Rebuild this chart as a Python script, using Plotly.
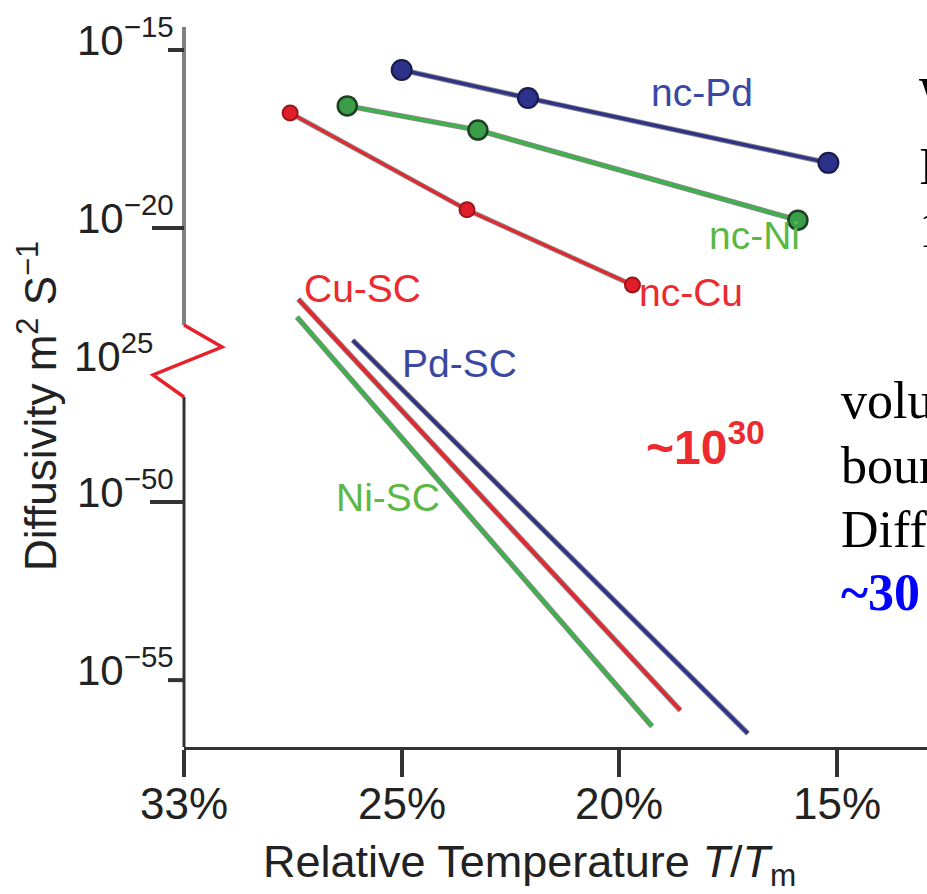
import numpy as np
import plotly.graph_objects as go

# ---------------- data (x: relative temperature T/Tm in %, y: log10 of diffusivity in m^2/s)
nc_pd_T = [25.0, 22.1, 15.2]
nc_pd_logD = [-15.56, -16.35, -18.17]
nc_ni_T = [27.0, 23.25, 15.9]
nc_ni_logD = [-16.57, -17.25, -19.78]
nc_cu_T = [29.1, 23.5, 19.7]
nc_cu_logD = [-16.77, -19.49, -21.60]

sc_cu_T = [28.8, 18.6]
sc_cu_logD = [-22.0, -55.85]
sc_ni_T = [28.85, 19.25]
sc_ni_logD = [-22.5, -56.3]
sc_pd_T = [26.8, 17.05]
sc_pd_logD = [-23.15, -56.5]

x_tick_pct = [33, 25, 20, 15]
x_tick_text = ["33%", "25%", "20%", "15%"]
y_tick_exp = [-15, -20, -50, -55]
y_tick_text = ["10<sup>\u221215</sup>", "10<sup>\u221220</sup>", "10<sup>\u221250</sup>", "10<sup>\u221255</sup>"]

# ---------------- axis scales (broken log axis, tick-spaced temperature axis)
GAP = 22.3          # decades removed by the axis break
GAP_LIMIT = -35.0   # values below this are in the lower segment


def y_axis(logd):
    a = np.asarray(logd, dtype=float)
    return np.where(a > GAP_LIMIT, a, a + GAP)


def x_axis(pct):
    return np.interp(np.asarray(pct, dtype=float), [15, 20, 25, 33], [3, 2, 1, 0])


# ---------------- layout geometry (pixels)
W, H = 927, 894
L, R, T, B = 184, 927, 27, 747
PW, PH = R - L, B - T
X_UNIT = 217.7


def pxx(px):
    return (px - L) / PW


def pxy(py):
    return (B - py) / PH


FONT = "Liberation Sans, Arial, Helvetica, sans-serif"
SERIF = "Liberation Serif, Times New Roman, serif"

BLUE = "#2f3388"
GREEN = "#3db24b"
RED = "#e5262e"
BLUE_T = "#3a48a2"
GREEN_T = "#5bb847"
RED_T = "#ec2a30"

fig = go.Figure()


def add_line(xp, yl, color, width=3.5, marker=None):
    x = x_axis(xp)
    y = y_axis(yl)
    fig.add_trace(go.Scatter(x=x, y=y, mode="lines",
                             line=dict(color="rgba(40,40,40,0.55)", width=width + 2),
                             hoverinfo="skip", showlegend=False))
    fig.add_trace(go.Scatter(x=x, y=y, mode="lines+markers" if marker else "lines",
                             line=dict(color=color, width=width),
                             marker=marker, showlegend=False))


add_line(sc_ni_T, sc_ni_logD, GREEN, 3.5)
add_line(sc_cu_T, sc_cu_logD, RED, 3.5)
add_line(sc_pd_T, sc_pd_logD, BLUE, 3.5)

add_line(nc_cu_T, nc_cu_logD, RED, 3,
         dict(size=15, color="#e01e2a", line=dict(color="#9a1418", width=2)))
add_line(nc_ni_T, nc_ni_logD, GREEN, 3.5,
         dict(size=19, color="#3a9e48", line=dict(color="#1e3f25", width=2.5)))
add_line(nc_pd_T, nc_pd_logD, BLUE, 3.5,
         dict(size=20, color="#2c318a", line=dict(color="#181a4a", width=2)))

shapes = []
# y-axis line (broken)
shapes.append(dict(type="line", xref="paper", yref="paper", x0=0, x1=0,
                   y0=pxy(325), y1=pxy(T), line=dict(color="#808080", width=4)))
shapes.append(dict(type="line", xref="paper", yref="paper", x0=0, x1=0,
                   y0=pxy(397), y1=0, line=dict(color="#333333", width=3)))
# zig-zag break mark
zz = [(184, 325), (222, 347), (153, 375), (184, 397)]
path = "M " + " L ".join(f"{pxx(a):.5f},{pxy(b):.5f}" for a, b in zz)
shapes.append(dict(type="path", xref="paper", yref="paper", path=path,
                   line=dict(color="#e8202a", width=3.5)))
# y ticks
y_tick_len = [16, 32, 34, 16]
for e, ln in zip(y_tick_exp, y_tick_len):
    yv = float(y_axis(e))
    shapes.append(dict(type="line", xref="paper", yref="y", x0=pxx(L - ln), x1=0,
                       y0=yv, y1=yv, line=dict(color="#333333", width=4)))

ann = []
for e, t in zip(y_tick_exp, y_tick_text):
    ann.append(dict(text=t, xref="paper", yref="y", x=pxx(176), y=float(y_axis(e)),
                    xanchor="right", yanchor="middle", yshift=13, showarrow=False,
                    font=dict(family=FONT, size=42, color="#222222")))
ann.append(dict(text="10<sup>25</sup>", xref="paper", yref="paper", x=pxx(155), y=pxy(353),
                xanchor="right", yanchor="middle", showarrow=False,
                font=dict(family=FONT, size=42, color="#222222")))
# x tick labels
for p, t in zip(x_tick_pct, x_tick_text):
    ann.append(dict(text=t, xref="x", yref="paper", x=float(x_axis(p)), y=pxy(803),
                    xanchor="center", yanchor="middle", showarrow=False,
                    font=dict(family=FONT, size=44, color="#222222")))

ann.append(dict(text="Relative Temperature <i>T</i>/<i>T</i><sub>m</sub>", xref="paper", yref="paper",
                x=pxx(529), y=pxy(864), xanchor="center", yanchor="middle", showarrow=False,
                font=dict(family=FONT, size=45, color="#222222")))
ann.append(dict(text="Diffusivity m<sup>2</sup> S<sup>\u22121</sup>", xref="paper", yref="paper",
                x=pxx(37), y=pxy(406), xanchor="center", yanchor="middle", textangle=-90,
                showarrow=False, font=dict(family=FONT, size=44, color="#222222")))


def lab(text, cx, cy, color, size=39, bold=False, anchor="center"):
    ann.append(dict(text=f"<b>{text}</b>" if bold else text, xref="paper", yref="paper",
                    x=pxx(cx), y=pxy(cy), xanchor=anchor, yanchor="middle", showarrow=False,
                    font=dict(family=FONT, size=size, color=color)))


lab("nc-Pd", 702, 92, BLUE_T)
lab("nc-Ni", 754, 236, GREEN_T)
lab("nc-Cu", 691, 292, RED_T)
lab("Cu-SC", 362, 288, RED_T)
lab("Pd-SC", 459, 363, BLUE_T)
lab("Ni-SC", 388, 497, GREEN_T)
lab("~10<sup>30</sup>", 644, 444, RED_T, size=48, bold=True, anchor="left")

# slide text cut off at the right edge
for txt, cy in [("W", 97), ("I", 166), ("1", 229)]:
    ann.append(dict(text=txt, xref="paper", yref="paper", x=pxx(917), y=pxy(cy),
                    xanchor="left", yanchor="middle", showarrow=False,
                    font=dict(family=SERIF, size=52, color="#000000")))
for txt, cy, col, b in [("volume", 401, "#000000", False), ("boundary", 465, "#000000", False),
                        ("Diffusion", 529, "#000000", False), ("~30 orders", 592, "#0000ff", True)]:
    ann.append(dict(text=f"<b>{txt}</b>" if b else txt, xref="paper", yref="paper", x=pxx(839),
                    y=pxy(cy), xanchor="left", yanchor="middle", showarrow=False,
                    font=dict(family=SERIF, size=52, color=col)))

fig.update_layout(
    width=W, height=H,
    margin=dict(l=L, r=W - R, t=T, b=H - B, pad=0),
    paper_bgcolor="white", plot_bgcolor="white",
    showlegend=False,
    shapes=shapes, annotations=ann,
    xaxis=dict(range=[0, (R - L) / X_UNIT], tickvals=x_axis(x_tick_pct).tolist(),
               showticklabels=False,
               ticks="outside", ticklen=27, tickwidth=4, tickcolor="#333333",
               showline=True, linecolor="#333333", linewidth=3,
               showgrid=False, zeroline=False),
    yaxis=dict(range=[-15 - (B - 50) / 35.6, -15 + (50 - T) / 35.6],
               showline=False, showticklabels=False, ticks="", showgrid=False, zeroline=False),
)

fig.write_html("out.html")
